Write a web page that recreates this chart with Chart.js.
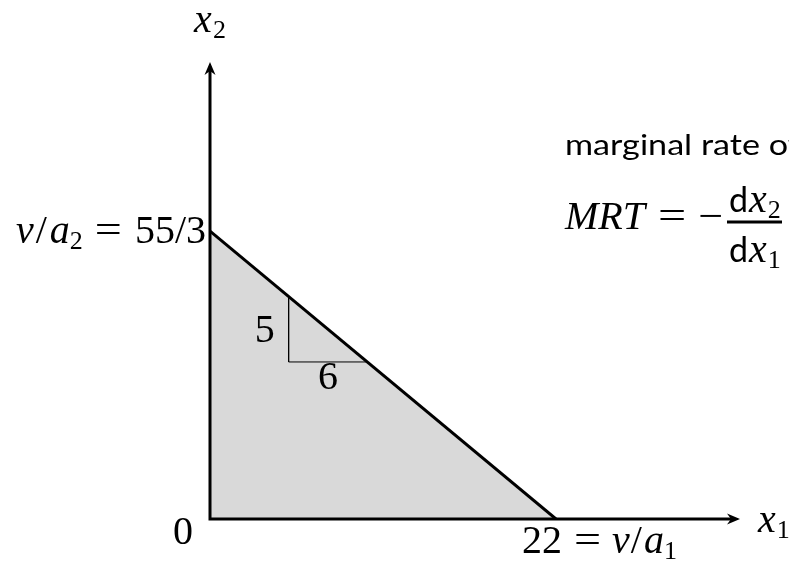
<!DOCTYPE html>
<html>
<head>
<meta charset="utf-8">
<script src="https://cdn.jsdelivr.net/npm/chart.js@4"></script>
<style>
  html, body { margin: 0; background: #fff; }
  canvas { display: block; }
</style>
</head>
<body>
<canvas id="ppf" width="789" height="562"></canvas>
<script>
// frontier: x1 intercept 22, x2 intercept 55/3
const frontierX = [0, 22];
const frontierY = [55 / 3, 0];
// slope triangle drawn under the frontier
const slopeX = [5, 5, 10];
const slopeY = [14.17, 10, 10];
// axis extent (arrow tips)
const axisMaxX = 33.7;
const axisMaxY = 29.1;

const SERIF = '"Liberation Serif", "DejaVu Serif", serif';
const SANS = 'Lato, "Open Sans", sans-serif';
const FS = 40;

// draw a run of math-ish text pieces, returns total width
function drawRuns(ctx, runs, x, y, align) {
  const pieces = runs.map(r => {
    const size = r.sub ? 26 : (r.size || FS);
    const font = (r.it ? 'italic ' : '') + size + 'px ' + (r.sans ? SANS : SERIF);
    ctx.font = font;
    const sx = r.sx || 1;
    return { ...r, font, sx, w: ctx.measureText(r.t).width * sx };
  });
  const total = pieces.reduce((s, p) => s + (p.pre || 0) + p.w + (p.gap || 0), 0);
  let cx = align === 'right' ? x - total : align === 'center' ? x - total / 2 : x;
  ctx.fillStyle = '#000';
  ctx.textBaseline = 'alphabetic';
  ctx.textAlign = 'left';
  pieces.forEach(p => {
    cx += (p.pre || 0);
    ctx.font = p.font;
    ctx.save();
    ctx.translate(cx, y + (p.sub ? 6 : 0));
    ctx.scale(p.sx, 1);
    ctx.fillText(p.t, 0, 0);
    ctx.restore();
    cx += p.w + (p.gap || 0);
  });
  return total;
}

function arrowHead(ctx, tx, ty, dir) {
  ctx.save();
  ctx.translate(tx, ty);
  if (dir === 'right') ctx.rotate(Math.PI / 2);
  ctx.beginPath();
  ctx.moveTo(0, 0);
  ctx.lineTo(-5.5, 13);
  ctx.lineTo(0, 9);
  ctx.lineTo(5.5, 13);
  ctx.closePath();
  ctx.fillStyle = '#000';
  ctx.fill();
  ctx.restore();
}

const axesPlugin = {
  id: 'axesAndLabels',
  afterDatasetsDraw(chart) {
    const { ctx, scales: { x, y } } = chart;
    const ox = x.getPixelForValue(0), oy = y.getPixelForValue(0);
    const ex = x.getPixelForValue(axisMaxX), ey = y.getPixelForValue(axisMaxY);
    ctx.save();
    ctx.strokeStyle = '#000';
    ctx.lineWidth = 3;
    ctx.lineCap = 'square';
    ctx.beginPath();
    ctx.moveTo(ox, oy); ctx.lineTo(ex - 8, oy);
    ctx.moveTo(ox, oy); ctx.lineTo(ox, ey + 8);
    ctx.stroke();
    ctx.lineWidth = 1.6;
    ctx.lineCap = 'butt';
    ctx.beginPath();
    ctx.moveTo(ex - 10, oy); ctx.lineTo(ex - 2, oy);
    ctx.moveTo(ox, ey + 10); ctx.lineTo(ox, ey + 2);
    ctx.stroke();
    arrowHead(ctx, ex, oy, 'right');
    arrowHead(ctx, ox, ey, 'up');

    // axis names
    drawRuns(ctx, [{ t: 'x', it: true }, { t: '2', sub: true, pre: 1 }], ox, 32, 'center');
    drawRuns(ctx, [{ t: 'x', it: true }, { t: '1', sub: true, pre: 1 }], ex + 18, oy + 13, 'left');

    // origin and intercepts
    drawRuns(ctx, [{ t: '0' }], ox - 27, oy + 25, 'center');
    const yi = y.getPixelForValue(frontierY[0]);
    drawRuns(ctx, [
      { t: 'v', it: true, gap: 2 }, { t: '/', gap: 3 }, { t: 'a', it: true }, { t: '2', sub: true, gap: 12 },
      { t: '=', sx: 1.2, gap: 13 }, { t: '55/3' }
    ], ox - 4, yi + 12, 'right');
    const xi = x.getPixelForValue(frontierX[1]);
    drawRuns(ctx, [
      { t: '22', gap: 12 }, { t: '=', sx: 1.2, gap: 11 },
      { t: 'v', it: true, gap: 1 }, { t: '/', gap: 2 }, { t: 'a', it: true }, { t: '1', sub: true }
    ], xi - 34, oy + 34, 'left');

    // slope triangle labels
    const tx = x.getPixelForValue(slopeX[0]);
    const tyMid = (y.getPixelForValue(slopeY[0]) + y.getPixelForValue(slopeY[1])) / 2;
    drawRuns(ctx, [{ t: '5' }], tx - 24, tyMid + 13, 'center');
    const bx = (x.getPixelForValue(slopeX[1]) + x.getPixelForValue(slopeX[2])) / 2;
    drawRuns(ctx, [{ t: '6' }], bx, y.getPixelForValue(slopeY[2]) + 27, 'center');

    // MRT annotation
    ctx.font = '28px ' + SANS;
    ctx.fillStyle = '#000';
    ctx.save();
    ctx.translate(565, 155);
    ctx.scale(1.22, 1);
    ctx.fillText('marginal rate of transformation', 0, 0);
    ctx.restore();
    drawRuns(ctx, [
      { t: 'MRT', it: true, gap: 13 }, { t: '=', sx: 1.25, gap: 12 }, { t: '\u2212', sx: 1.1 }
    ], 565, 229, 'left');
    drawRuns(ctx, [{ t: 'd', sans: true, size: 34, gap: 1 }, { t: 'x', it: true }, { t: '2', sub: true, pre: 1 }], 729, 212, 'left');
    drawRuns(ctx, [{ t: 'd', sans: true, size: 34, gap: 1 }, { t: 'x', it: true }, { t: '1', sub: true, pre: 1 }], 729, 262, 'left');
    ctx.lineWidth = 3.2;
    ctx.beginPath();
    ctx.moveTo(727, 222); ctx.lineTo(782, 222);
    ctx.stroke();
    ctx.restore();
  }
};

new Chart(document.getElementById('ppf'), {
  type: 'scatter',
  data: {
    datasets: [
      {
        data: frontierX.map((v, i) => ({ x: v, y: frontierY[i] })),
        showLine: true,
        borderColor: '#000',
        borderWidth: 3,
        backgroundColor: '#d9d9d9',
        fill: 'origin',
        pointRadius: 0,
        order: 1
      },
      {
        data: slopeX.map((v, i) => ({ x: v, y: slopeY[i] })),
        showLine: true,
        borderColor: '#000',
        borderWidth: 1,
        fill: false,
        pointRadius: 0,
        order: 0
      }
    ]
  },
  options: {
    responsive: false,
    animation: false,
    layout: { padding: { left: 210, right: 49, top: 62, bottom: 43 } },
    plugins: { legend: { display: false }, tooltip: { enabled: false } },
    scales: {
      x: { type: 'linear', min: 0, max: axisMaxX, display: false },
      y: { type: 'linear', min: 0, max: axisMaxY, display: false }
    }
  },
  plugins: [axesPlugin]
});
</script>
</body>
</html>
